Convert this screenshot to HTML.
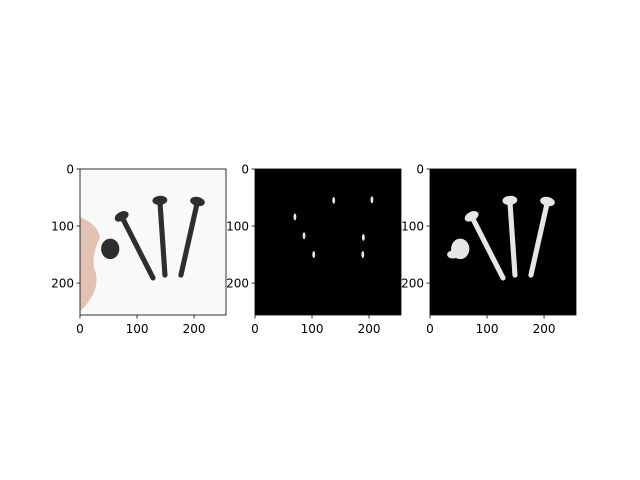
<!DOCTYPE html>
<html><head><meta charset="utf-8"><style>
body{margin:0;background:#fff}
svg{display:block;font-family:"DejaVu Sans","Liberation Sans",sans-serif}
</style></head><body>
<svg id="fig" width="640" height="480" viewBox="0 0 640 480" xmlns="http://www.w3.org/2000/svg"></svg>
<script>
const tickValues = [0, 100, 200];
const tickLabels = ["0", "100", "200"];
const panelNames = ["original-image", "edge-mask", "segmentation-mask"];
const panelLeft = [80, 255, 430];
const screwHeads = [[73, 83], [140, 55], [206, 57]];
const screwTips = [[128, 191], [149, 186], [177, 186]];
const heldHead = [53, 140];
const specks = [[70, 84], [86, 117], [103, 150], [138, 55], [205, 54], [190, 120], [189, 150]];

const NS = "http://www.w3.org/2000/svg";
const svg = document.getElementById("fig");
const TOP = 169, SIZE = 146, N = 256;
function sx(i, v) { return panelLeft[i] + v / N * SIZE; }
function sy(v) { return TOP + v / N * SIZE; }
function el(tag, attrs, parent) {
  const e = document.createElementNS(NS, tag);
  for (const k in attrs) e.setAttribute(k, attrs[k]);
  (parent || svg).appendChild(e);
  return e;
}
const k = SIZE / N;
panelNames.forEach((name, i) => {
  const g = el("g", {});
  
  
  const clipId = "c" + i;
  const cp = el("clipPath", { id: clipId }, g);
  el("rect", { x: panelLeft[i], y: TOP, width: SIZE, height: SIZE }, cp);
  const img = el("g", { "clip-path": "url(#" + clipId + ")" }, g);
  const bg = i === 0 ? "#f9f9f9" : "#000";
  el("rect", { x: panelLeft[i], y: TOP, width: SIZE, height: SIZE, fill: bg }, img);
  if (i === 0) {
    const f = el("path", { d: `M${sx(0,0)},${sy(85)} Q${sx(0,30)},${sy(95)} ${sx(0,35)},${sy(120)} Q${sx(0,20)},${sy(150)} ${sx(0,25)},${sy(175)} Q${sx(0,40)},${sy(210)} ${sx(0,0)},${sy(250)} Z`, fill: "#e2c2b2" }, img);
    
    
  }
  const col = i === 0 ? "#2e2e2e" : "#e6e6e6";
  if (i !== 1) {
    screwHeads.forEach((h, j) => {
      const t = screwTips[j];
      const s = el("line", { x1: sx(i, h[0]), y1: sy(h[1]), x2: sx(i, t[0]), y2: sy(t[1]), stroke: col, "stroke-width": 9 * k, "stroke-linecap": "round" }, img);
      
      
      const ang = Math.atan2(t[1] - h[1], t[0] - h[0]) * 180 / Math.PI;
      const hd = el("ellipse", { cx: sx(i, h[0]), cy: sy(h[1]), rx: 8 * k, ry: 13 * k, fill: col, transform: `rotate(${ang} ${sx(i, h[0])} ${sy(h[1])})` }, img);
      
      
    });
    const hh = el("ellipse", { cx: sx(i, heldHead[0]), cy: sy(heldHead[1]), rx: 16 * k, ry: 18 * k, fill: col }, img);
    
    
    if (i === 2) el("ellipse", { cx: sx(i, 40), cy: sy(150), rx: 10 * k, ry: 7 * k, fill: col }, img);
  } else {
    specks.forEach(p => {
      const s = el("ellipse", { cx: sx(i, p[0]), cy: sy(p[1]), rx: 2.5 * k, ry: 6 * k, fill: "#e6e6e6" }, img);
      
      
    });
  }
  el("rect", { x: panelLeft[i], y: TOP, width: SIZE, height: SIZE, fill: "none", stroke: "#000", "stroke-width": 0.8 }, g);
  tickValues.forEach((v, j) => {
    el("line", { x1: sx(i, v), y1: TOP + SIZE, x2: sx(i, v), y2: TOP + SIZE + 3.5, stroke: "#000", "stroke-width": 0.8 }, g);
    const tx = el("text", { x: sx(i, v), y: TOP + SIZE + 18, "font-size": 12, "text-anchor": "middle" }, g);
    tx.textContent = tickLabels[j];
    
    
    el("line", { x1: panelLeft[i], y1: sy(v), x2: panelLeft[i] - 3.5, y2: sy(v), stroke: "#000", "stroke-width": 0.8 }, g);
    const ty = el("text", { x: panelLeft[i] - 6, y: sy(v) + 4.5, "font-size": 12, "text-anchor": "end" }, g);
    ty.textContent = tickLabels[j];
    
    
  });
});
</script>
</body></html>
